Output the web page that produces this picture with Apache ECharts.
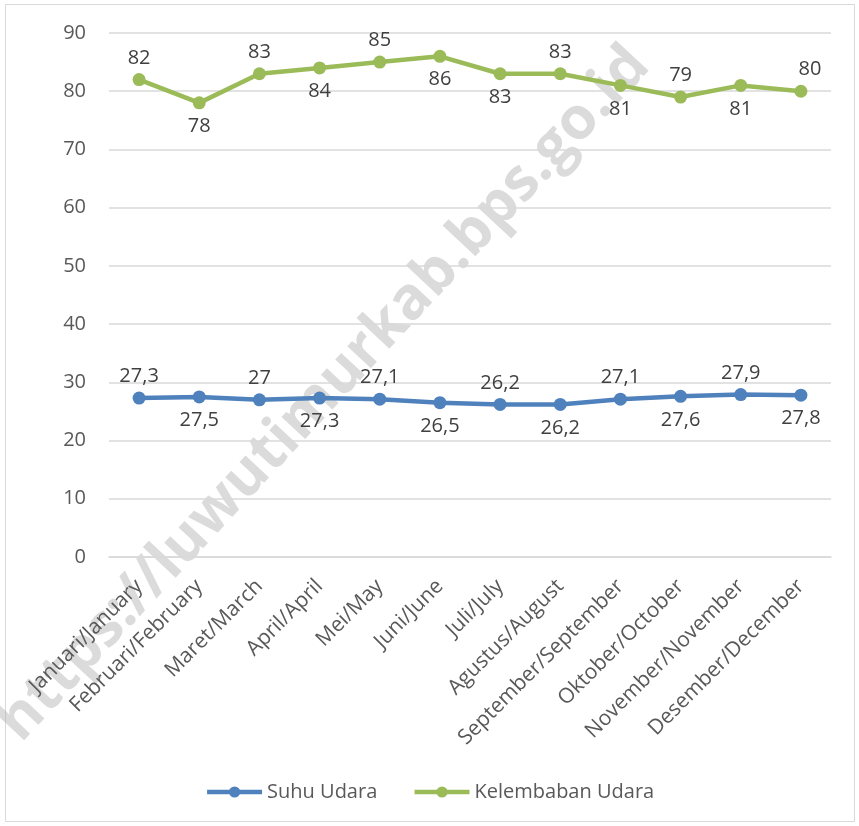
<!DOCTYPE html>
<html><head><meta charset="utf-8">
<script src="https://cdn.jsdelivr.net/npm/echarts@6/dist/echarts.min.js"></script>
<style>html,body{margin:0;padding:0;background:#fff}#c{width:859px;height:826px}</style>
</head><body><div id="c"></div>
<script>
const categories = ['Januari/January','Februari/February','Maret/March','April/April','Mei/May','Juni/June','Juli/July','Agustus/August','September/September','Oktober/October','November/November','Desember/December'];
const suhuUdara = [27.3, 27.5, 27.0, 27.3, 27.1, 26.5, 26.2, 26.2, 27.1, 27.6, 27.9, 27.8];
const kelembabanUdara = [82, 78, 83, 84, 85, 86, 83, 83, 81, 79, 81, 80];
const suhuLabelPos = ['top','bottom','top','bottom','top','bottom','top','bottom','top','bottom','top','bottom'];
const kelembabanLabelPos = ['top','bottom','top','bottom','top','bottom','bottom','top','bottom','top','bottom','top'];
const yTicks = {min: 0, max: 90, interval: 10};

const FONT = 'Open Sans';
function mk(vals, pos) {
  return vals.map((v, i) => ({value: v, label: {position: pos[i], distance: pos[i] === 'top' ? 5 : 7}}));
}
const lastK = kelembabanUdara.length - 1;
const chart = echarts.init(document.getElementById('c'), null, {renderer: 'canvas'});
const kData = mk(kelembabanUdara, kelembabanLabelPos);
kData[lastK].label.offset = [9, 0];
chart.setOption({
  animation: false,
  backgroundColor: '#fff',
  textStyle: {fontFamily: FONT},
  graphic: [
    {type: 'rect', shape: {x: 5.5, y: 4.5, width: 849, height: 817}, style: {fill: 'none', stroke: '#d9d9d9', lineWidth: 1}, z: -10},
    {type: 'text', x: 324, y: 394, rotation: 47 * Math.PI / 180,
      style: {text: 'https://luwutimurkab.bps.go.id', font: 'bold 59px "Open Sans"', fill: 'rgba(170,170,170,0.42)', align: 'center', verticalAlign: 'middle'}, z: -5, silent: true}
  ],
  grid: {left: 109, right: 28, top: 33, bottom: 269, containLabel: false},
  legend: {
    bottom: 19, left: 'center', itemWidth: 55, itemHeight: 14, itemGap: 35,
    lineStyle: {width: 4.5},
    textStyle: {fontSize: 20, color: '#595959', fontFamily: FONT},
    data: ['Suhu Udara', 'Kelembaban Udara']
  },
  xAxis: {
    type: 'category', data: categories, boundaryGap: true,
    axisLine: {show: true, lineStyle: {color: '#d9d9d9', width: 1.5}},
    axisTick: {show: false},
    axisLabel: {rotate: 45, fontSize: 21, color: '#595959', margin: 26, interval: 0, fontFamily: FONT}
  },
  yAxis: {
    type: 'value', min: yTicks.min, max: yTicks.max, interval: yTicks.interval,
    axisLine: {show: false}, axisTick: {show: false},
    splitLine: {lineStyle: {color: '#d9d9d9', width: 1.5}},
    axisLabel: {fontSize: 20, color: '#595959', margin: 23, fontFamily: FONT}
  },
  series: [
    {
      name: 'Suhu Udara', type: 'line', data: mk(suhuUdara, suhuLabelPos),
      color: '#4F81BD', symbol: 'circle', symbolSize: 13,
      lineStyle: {width: 4.5, color: '#4F81BD'}, itemStyle: {color: '#4F81BD'},
      label: {show: true, fontSize: 20, color: '#404040', fontFamily: FONT,
        formatter: p => String(p.value).replace('.', ',')}
    },
    {
      name: 'Kelembaban Udara', type: 'line', data: kData,
      color: '#9BBB59', symbol: 'circle', symbolSize: 13,
      lineStyle: {width: 4.5, color: '#9BBB59'}, itemStyle: {color: '#9BBB59'},
      label: {show: true, fontSize: 20, color: '#404040', fontFamily: FONT,
        formatter: p => String(p.value).replace('.', ',')}
    }
  ]
});
</script></body></html>
